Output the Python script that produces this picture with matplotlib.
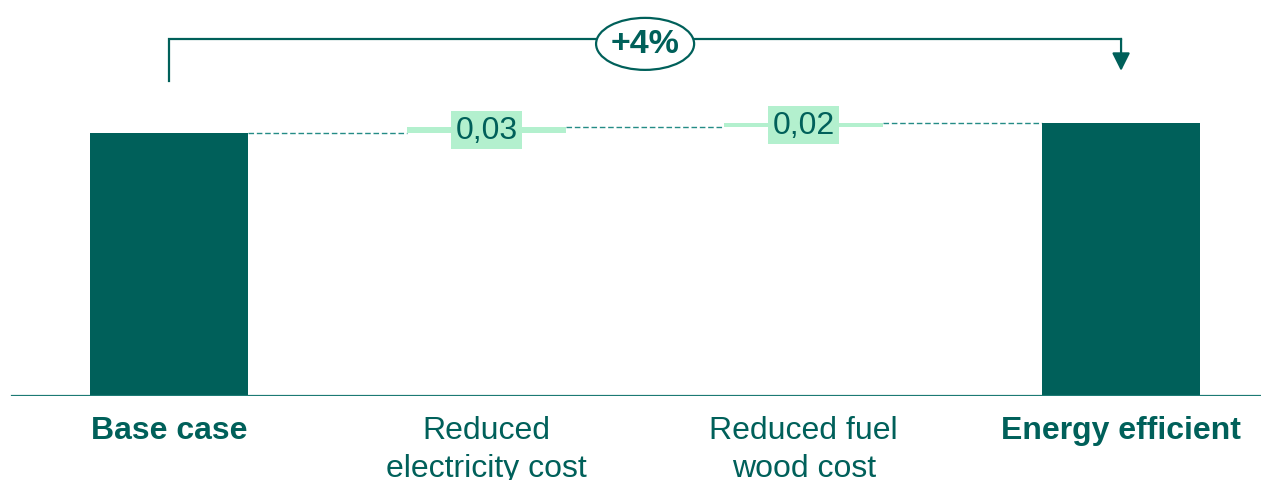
import matplotlib.pyplot as plt
from matplotlib.patches import Ellipse
import numpy as np

plt.rcParams['font.family'] = ['Liberation Sans', 'DejaVu Sans']

# data
categories = ['Base case', 'Reduced\nelectricity cost', 'Reduced fuel\nwood cost', 'Energy efficient']
base_value = 1.30
increments = [0.03, 0.02]
increment_labels = ['0,03', '0,02']
change_label = '+4%'

dark = '#00605A'
light = '#B3F0CE'
dash_col = '#248C86'
axis_col = '#1C7A74'

final_value = base_value + sum(increments)

fig = plt.figure(figsize=(12.61, 4.81), dpi=100)
ax = fig.add_axes([0, 84 / 481, 1, 397 / 481])
ax.set_xlim(-0.533, 3.441)
ymax = base_value * 397 / 263
ax.set_ylim(0, ymax)
ax.axis('off')

w = 0.5
x = np.arange(len(categories))

# totals
ax.bar([x[0], x[-1]], [base_value, final_value], width=w, color=dark, zorder=2)

# increments
bottoms = base_value + np.concatenate([[0], np.cumsum(increments)[:-1]])
ax.bar(x[1:3], increments, bottom=bottoms, width=w, color=light, zorder=2)

# dashed connectors
levels = list(base_value + np.concatenate([[0], np.cumsum(increments)]))
for i in range(len(categories) - 1):
    ax.plot([x[i] + w / 2, x[i + 1] - w / 2], [levels[i], levels[i]],
            ls=(0, (4, 2)), lw=1.0, color=dash_col, zorder=1)

# value labels
for xi, b, v, lab in zip(x[1:3], bottoms, increments, increment_labels):
    ax.text(xi, b + v / 2, lab, ha='center', va='center', fontsize=23, color=dark,
            bbox=dict(boxstyle='square,pad=0.13', fc=light, ec='none'), zorder=3)

# baseline
ax.axhline(0, xmin=12 / 1261, xmax=1, color=axis_col, lw=1.6, zorder=3)

# category labels (second line runs off the bottom edge, as in the original)
for xi, cat in zip(x, categories):
    bold = cat in ('Base case', 'Energy efficient')
    ax.annotate(cat, xy=(xi, 0), xycoords='data', xytext=(0, -14), textcoords='offset points',
                ha='center', va='top', fontsize=23, color=dark,
                fontweight='bold' if bold else 'normal', linespacing=1.34,
                annotation_clip=False)

# bracket with growth
px = ymax / 397  # data units per pixel
top = final_value + 84 * px
ax.plot([x[0], x[0], x[-1]], [base_value + 52 * px, top, top], color=dark, lw=1.6,
        solid_joinstyle='miter', clip_on=False)
ax.annotate('', xy=(x[-1], final_value + 52 * px), xytext=(x[-1], top),
            arrowprops=dict(arrowstyle='-|>,head_length=0.6,head_width=0.3',
                            mutation_scale=18, color=dark, lw=1.6,
                            shrinkA=0, shrinkB=0), annotation_clip=False)
mid = (x[1] + x[2]) / 2
ax.add_patch(Ellipse((mid, top - 5 * px), 0.309, 52 * px, fc='white', ec=dark, lw=1.6,
                     zorder=4, clip_on=False))
ax.text(mid, top - 5 * px, change_label, ha='center', va='center', fontsize=24.5,
        fontweight='bold', color=dark, zorder=5)

fig.savefig('out.png', dpi=100)
